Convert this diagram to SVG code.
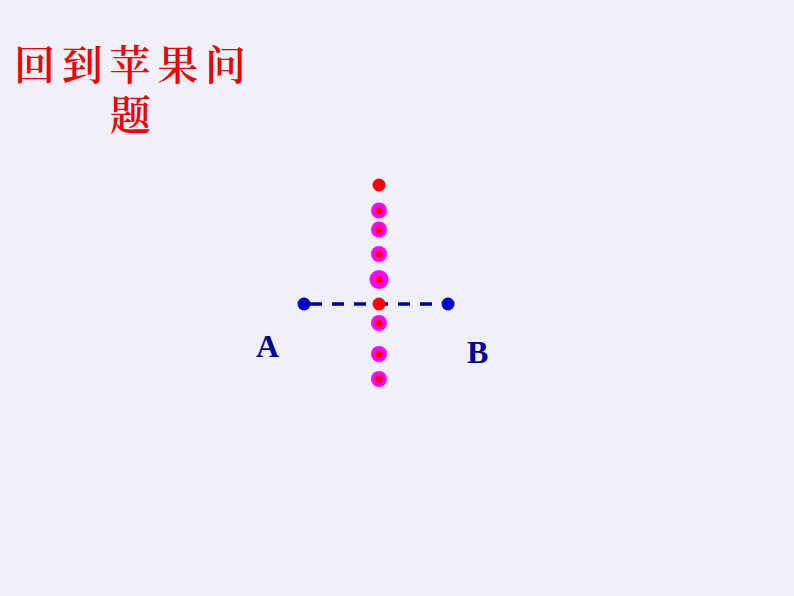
<svg xmlns="http://www.w3.org/2000/svg" width="794" height="596" viewBox="0 0 794 596">
<style>
.title{font-family:"Noto Serif CJK SC","Noto Sans CJK SC",serif;font-size:41px;fill:#EE0000;font-weight:600}
.lbl{font-family:"Liberation Serif",serif;font-size:32px;font-weight:bold;fill:#000099}
.m{fill:#FF00FF}
.r{fill:#FF0000}
.b{fill:#0000CC}
</style>
<rect width="794" height="596" fill="#F0F0FB"/>
<g id="title">
<text class="title" x="14" y="80" textLength="232" lengthAdjust="spacing">回到苹果问</text>
<text class="title" x="110" y="130">题</text>
</g>
<g id="connectors">
<line x1="310" y1="304" x2="443" y2="304" stroke="#0000AA" stroke-width="3.5" stroke-dasharray="12,10"/>
</g>
<g id="pointA"><circle class="b" cx="304" cy="304" r="6.5"/><text class="lbl" x="256" y="357">A</text></g>
<g id="pointB"><circle class="b" cx="448" cy="304" r="6.5"/><text class="lbl" x="467" y="363">B</text></g>
<g id="dots">
<circle class="r" cx="379" cy="185" r="6.5"/>
<circle class="m" cx="379" cy="210.5" r="8"/><circle class="r" cx="379" cy="210.5" r="3.5"/>
<circle class="m" cx="379" cy="229.5" r="8"/><circle class="r" cx="379" cy="229.5" r="3.5"/>
<circle class="m" cx="379" cy="254" r="8"/><circle class="r" cx="379" cy="254" r="3.5"/>
<circle class="m" cx="379" cy="279.5" r="9.5"/><circle class="r" cx="379" cy="279.5" r="3.5"/>
<circle class="r" cx="379" cy="304" r="6.5"/>
<circle class="m" cx="379" cy="323" r="8"/><circle class="r" cx="379" cy="323" r="3.5"/>
<circle class="m" cx="379" cy="354" r="8"/><circle class="r" cx="379" cy="354" r="3.5"/>
<circle class="m" cx="379" cy="379" r="8"/><circle class="r" cx="379" cy="379" r="3.5"/>
</g>
</svg>
